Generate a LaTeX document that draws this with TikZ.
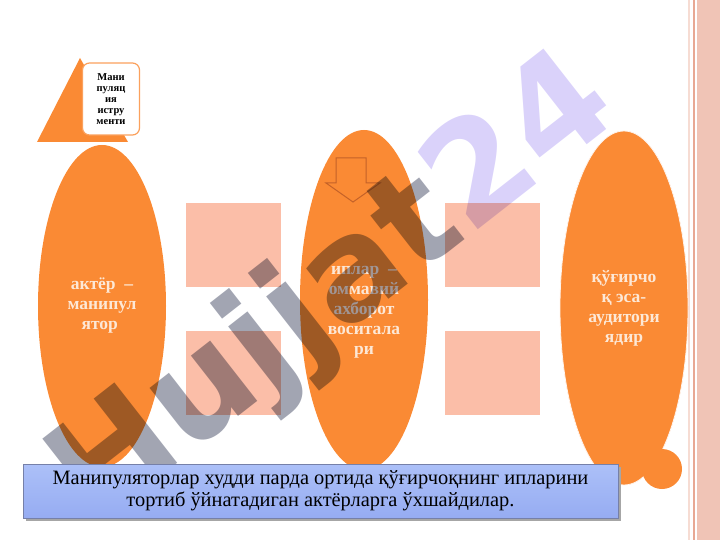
\documentclass[tikz,border=0pt]{standalone}
\usepackage{fontspec}
\setmainfont{Liberation Serif}
\newfontfamily\markfont{DejaVu Sans}
\usetikzlibrary{shapes.geometric}
\definecolor{ovalorange}{RGB}{250,138,52}
\definecolor{ovaltext}{RGB}{253,232,214}
\definecolor{tilepink}{RGB}{251,190,168}
\definecolor{arrowline}{RGB}{196,98,40}
\definecolor{notetop}{RGB}{172,192,248}
\definecolor{notebottom}{RGB}{150,172,242}
\definecolor{noteline}{RGB}{118,128,168}
\definecolor{bandpink}{RGB}{240,196,182}
\definecolor{bandline}{RGB}{232,168,148}
\definecolor{markgray}{RGB}{162,165,178}
\definecolor{marklilac}{RGB}{218,210,250}

\begin{document}
\begin{tikzpicture}[x=1pt, y=-1pt,
  oval/.style={ellipse, fill=ovalorange, minimum width=128pt, inner sep=0pt, text=ovaltext, align=center, font=\fontsize{17.5}{20}\selectfont\bfseries},
  tile/.style={fill=tilepink, minimum width=95pt, minimum height=84pt, inner sep=0pt}]
\useasboundingbox (0,0) rectangle (720,540);
% Band
\fill[bandpink] (697,0) rectangle (720,540);
\draw[bandpink!60, line width=2pt] (689,0) -- (689,540);
\draw[bandline, line width=1.2pt] (694,0) -- (694,540);

% Points
\node[tile] (t1) at (233.5,245) {};
\node[tile] (t2) at (233.5,373) {};
\node[tile] (t3) at (492.5,245) {};
\node[tile] (t4) at (492.5,373) {};
\coordinate (apex) at (80,58);
\coordinate (bl) at (37,142);
\coordinate (br) at (128,142);
\fill[ovalorange] (apex) -- (br) -- (bl) -- cycle;
\node[draw=ovalorange!80, line width=1.2pt, fill=white, rounded corners=7pt, minimum width=57pt, minimum height=72pt, inner sep=0pt, align=center, font=\fontsize{10.5}{11}\selectfont\bfseries] (tool) at (111,99) {Мани\\пуляц\\ия\\истру\\менти};
\node[oval, minimum height=322pt] (actor) at (102,306) {актёр\ \ –\\манипул\\ятор\ \ };
\node[oval, minimum height=340pt] (strings) at (364,300) {};
\node[font=\fontsize{17.5}{20}\selectfont\bfseries, text=ovaltext, align=center] (stringtext) at (364,312) {иплар\ \ –\\оммавий\\ахборот\\воситала\\ри};
\node[oval, minimum height=354pt, draw=white!90!ovalorange, line width=0.8pt] (puppet) at (624,308) {қўғирчо\\қ эса-\\аудитори\\ядир};
\node[circle, fill=ovalorange, minimum size=40pt, inner sep=0pt] (dot) at (662,469) {};

%Arrow
\draw[arrowline, line width=1pt] (336,158) -- (366,158) -- (366,183) -- (380,183) -- (353,202) -- (326,183) -- (336,183) -- cycle;

% Mark
\begin{scope}[blend mode=multiply]
\node[rotate=38, inner sep=0pt, font=\markfont\bfseries\fontsize{140}{140}\selectfont] (mark) at (336,292) {\textcolor{markgray}{Hujjat}\textcolor{marklilac}{24}};
\end{scope}

% Note
\fill[black!35] (26,467) rectangle (621,521);
\node[draw=noteline, line width=0.6pt, top color=notetop, bottom color=notebottom, minimum width=595pt, minimum height=54pt, inner sep=0pt, align=center, font=\fontsize{20.4}{22}\selectfont] (note) at (320.5,491) {Манипуляторлар худди парда ортида қўғирчоқнинг ипларини\\тортиб ўйнатадиган актёрларга ўхшайдилар.};
\end{tikzpicture}
\end{document}
